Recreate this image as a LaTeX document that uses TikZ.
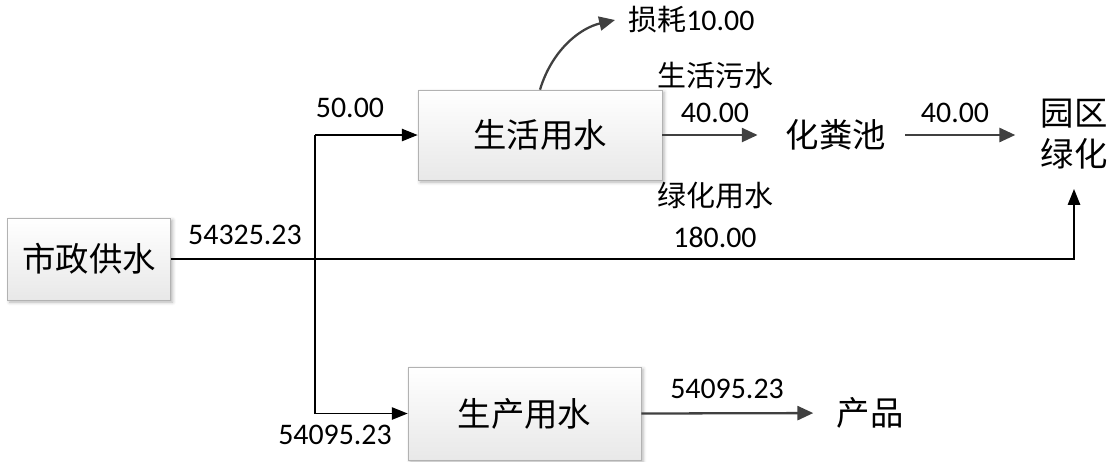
\documentclass[tikz,border=0pt]{standalone}
\usepackage{fontspec}
\setmainfont{Carlito}
\newfontfamily\cjk{Noto Sans CJK SC}
\usepackage{tikz}
\usetikzlibrary{arrows.meta}
\usetikzlibrary{shadows.blur,positioning}

\begin{document}
\begin{tikzpicture}[x=0.02cm,y=-0.02cm,
	flowbox/.style={draw=gray!60,top color=white,bottom color=gray!18,
		blur shadow={shadow xshift=1.2pt,shadow yshift=-1.2pt,shadow blur steps=4,shadow opacity=30},
		font=\cjk\fontsize{19}{19}\selectfont,inner sep=0pt},
	cjktxt/.style={font=\cjk\fontsize{19}{23}\selectfont,inner sep=0pt},
	numlbl/.style={font=\fontsize{17}{17}\selectfont,inner sep=0pt},
	cjklbl/.style={font=\cjk\fontsize{16.5}{17}\selectfont,inner sep=0pt},
	mainline/.style={black,line width=0.9pt},
	mainarrow/.style={mainline,-{Triangle[length=9pt,width=7pt]}},
	grayarrow/.style={draw=black!75,line width=1.3pt,-{Triangle[length=9pt,width=8pt]}}]
	\useasboundingbox (0,0) rectangle (1111,461);

	% boxes
	\node[flowbox,minimum width=3.26cm,minimum height=1.64cm] (szgs) at (89,259) {市政供水};
	\node[flowbox,minimum width=4.88cm,minimum height=1.8cm] (shys) at (540,135) {生活用水};
	\node[flowbox,minimum width=4.66cm,minimum height=1.86cm] (scys) at (524.5,413.5) {生产用水};

	% plain text nodes
	\node[cjktxt] (hfc) at (836,135) {化粪池};
	\node[cjktxt,align=center] (yqlh) at (1074,134) {园区\\绿化};
	\node[cjktxt] (cp) at (870,413) {产品};
	\node[cjklbl,anchor=west] (sh) at (628,20) {损耗{\fontspec{Carlito}\fontsize{17}{17}\selectfont 10.00}};
	\coordinate (jd) at (315,259);

	% labels
	\node[numlbl] (l1) at (245,235) {54325.23};
	\node[numlbl] (l2) at (350,108) {50.00};
	\node[numlbl] (l3) at (335,435) {54095.23};
	\node[cjklbl] (l4) at (715,75) {生活污水};
	\node[numlbl] (l5) at (715,113) {40.00};
	\node[numlbl] (l6) at (955,113) {40.00};
	\node[cjklbl] (l7) at (715,196) {绿化用水};
	\node[numlbl] (l8) at (715,237) {180.00};
	\node[numlbl] (l9) at (727,389) {54095.23};

	% connectors
	\draw[mainarrow] (szgs.east) -| ([yshift=-1.1cm]yqlh.center);
	\draw[mainline] (jd |- shys.west) -- (jd |- scys.west);
	\draw[mainarrow] (jd |- shys.west) -- (shys.west);
	\draw[mainarrow] (jd |- scys.west) -- (scys.west);
	\draw[grayarrow,shorten >=0.56cm] (shys.east) -- (hfc.west);
	\draw[grayarrow,shorten <=0.38cm,shorten >=0.5cm] (hfc.east) -- (hfc.east -| yqlh.west);
	\draw[grayarrow,shorten >=0.46cm] (scys.east) -- (cp.west);
	\draw[grayarrow] (shys.north) .. controls (552,50) and (580,28) .. ([xshift=-0.26cm]sh.west);
\end{tikzpicture}
\end{document}
